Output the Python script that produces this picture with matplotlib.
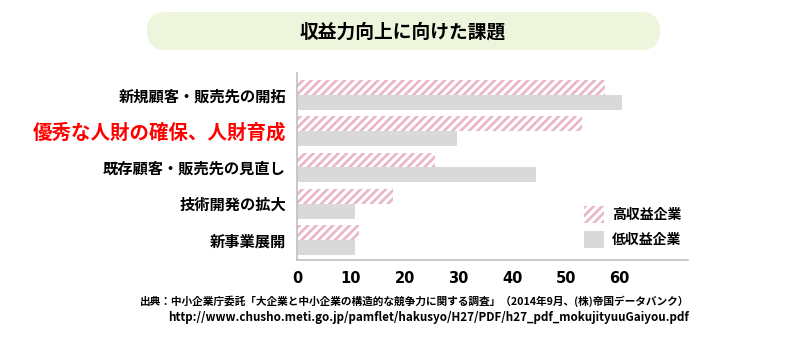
import matplotlib.pyplot as plt
import numpy as np
from matplotlib.patches import FancyBboxPatch, Patch

plt.rcParams['font.family'] = ['Noto Sans CJK JP', 'DejaVu Sans']
plt.rcParams['hatch.linewidth'] = 1.9

# データ
categories = ['新規顧客・販売先の開拓', '優秀な人財の確保、人財育成', '既存顧客・販売先の見直し',
              '技術開発の拡大', '新事業展開']
high_profit = [57.2, 52.9, 25.6, 17.8, 11.5]
low_profit = [60.5, 29.7, 44.5, 10.8, 10.8]
series_names = ['高収益企業', '低収益企業']
xticks = [0, 10, 20, 30, 40, 50, 60]

pink = '#e9b5c7'
gray = '#d9d9d9'

fig = plt.figure(figsize=(7.95, 3.55), dpi=100)
ax = fig.add_axes([0.3736, 0.2676, 0.4918, 0.5268])

y = np.arange(len(categories))
h = 0.41
ax.barh(y - h / 2, high_profit, height=h, color='white', edgecolor=pink, linewidth=0, hatch='////')
ax.barh(y + h / 2, low_profit, height=h, color=gray, linewidth=0)

ax.set_xlim(0, 72.7)
ax.set_ylim(4.55, -0.6)
ax.set_xticks(xticks)
ax.set_xticklabels([str(t) for t in xticks], fontsize=10.5, fontweight='bold', family='DejaVu Sans')
ax.tick_params(axis='both', length=0, pad=8)
ax.set_yticks(y)
ax.set_yticklabels(categories, fontsize=11, fontweight='bold')
lbl = ax.get_yticklabels()[1]
lbl.set_color('#ff0000')
lbl.set_fontsize(14)
for s in ['top', 'right']:
    ax.spines[s].set_visible(False)
for s in ['left', 'bottom']:
    ax.spines[s].set_color('#bfbfbf')
    ax.spines[s].set_linewidth(1.2)

handles = [Patch(facecolor='white', edgecolor=pink, linewidth=0, hatch='////'),
           Patch(facecolor=gray, linewidth=0)]
ax.legend(handles, series_names, loc='lower right', bbox_to_anchor=(1.015, 0.0), frameon=False,
          prop={'family': 'Noto Sans CJK JP', 'weight': 'bold', 'size': 10},
          handlelength=1.45, handleheight=1.45, labelspacing=0.6, handletextpad=0.6)

# タイトル（ピクセル座標で描く）
box = FancyBboxPatch((147, 355 - 50), 513, 38,
                     boxstyle='round,pad=0,rounding_size=19', transform=None,
                     facecolor='#eef5dd', edgecolor='none')
fig.patches.append(box)
fig.text(403 / 795, 1 - 32 / 355, '収益力向上に向けた課題', ha='center', va='center',
         fontsize=13.5, fontweight='bold')

# 出典
fig.text(140 / 795, 1 - 301 / 355,
         '出典：中小企業庁委託「大企業と中小企業の構造的な競争力に関する調査」（2014年9月、(株)帝国データバンク）',
         ha='left', va='center', fontsize=7.7, fontweight='bold')
fig.text(168 / 795, 1 - 318 / 355,
         'http://www.chusho.meti.go.jp/pamflet/hakusyo/H27/PDF/h27_pdf_mokujityuuGaiyou.pdf',
         ha='left', va='center', fontsize=8.4, fontweight='bold')

fig.savefig('out.png', dpi=100)
